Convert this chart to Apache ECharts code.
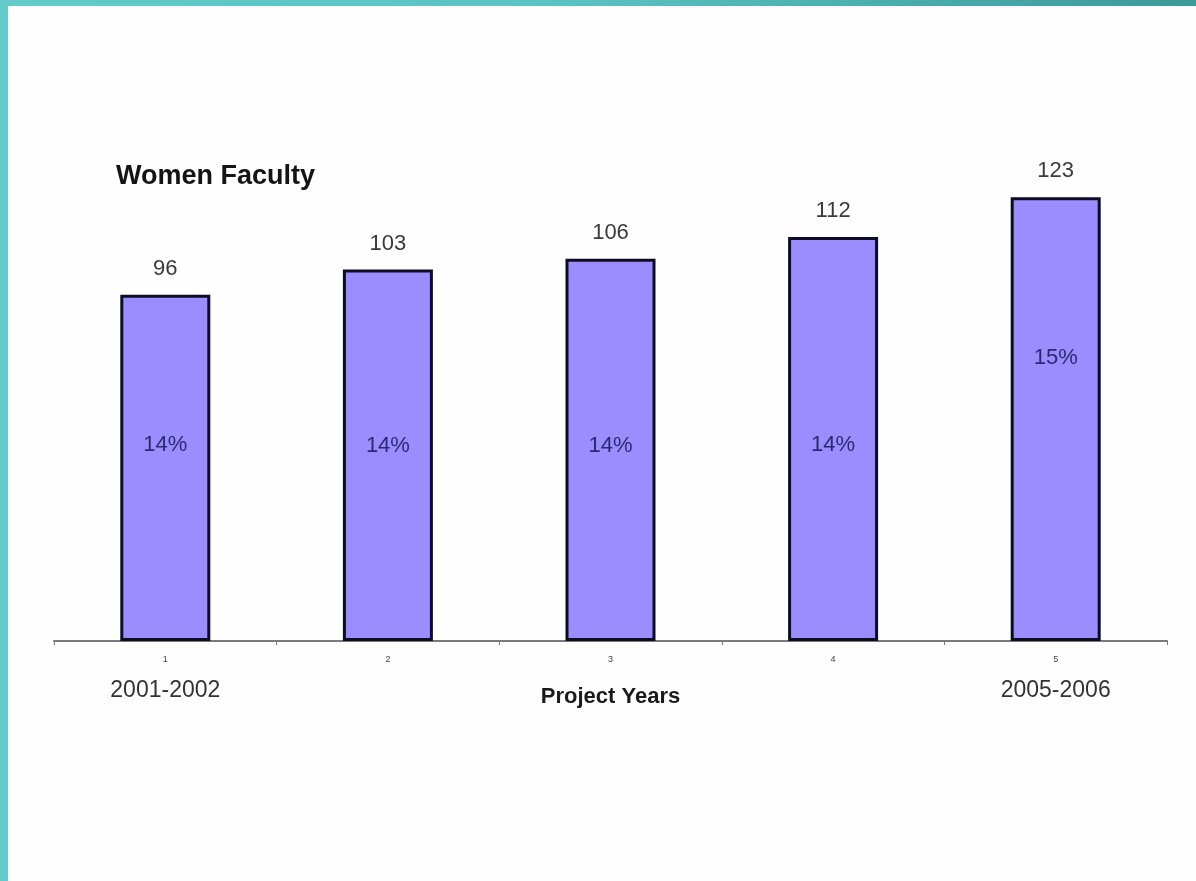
<!DOCTYPE html>
<html>
<head>
<meta charset="utf-8">
<title>Women Faculty</title>
<script src="https://cdn.jsdelivr.net/npm/echarts@6/dist/echarts.min.js"></script>
<style>
  html, body { margin: 0; padding: 0; background: #fefefe; }
  #wrap { position: relative; width: 1196px; height: 881px; overflow: hidden; background: #fefefe; }
  #chart { position: absolute; left: 0; top: 0; width: 1196px; height: 881px; }
  #edgeTop { position: absolute; left: 0; top: 0; width: 1196px; height: 6px;
             background: linear-gradient(to right, #63caca, #5cc3c4 45%, #3a9b99); }
  #edgeLeft { position: absolute; left: 0; top: 0; width: 8px; height: 881px; background: #64caca; }
</style>
</head>
<body>
<div id="wrap">
  <div id="chart"></div>
  <div id="edgeTop"></div>
  <div id="edgeLeft"></div>
</div>
<script>
// Women faculty headcount per project year, with share of all faculty
const yearIndex = ['1', '2', '3', '4', '5'];
const yearSpan = ['2001-2002', '', '', '', '2005-2006'];
const womenFaculty = [96, 103, 106, 112, 123];
const womenShare = ['14%', '14%', '14%', '14%', '15%'];

// vertical placement of the share text inside each bar (px below the bar top)
const shareOffset = [150, 176, 187, 208, 161];

const font = '"Liberation Sans", Arial, sans-serif';

const chart = echarts.init(document.getElementById('chart'), null, { renderer: 'canvas' });

chart.setOption({
  backgroundColor: 'transparent',
  animation: false,
  textStyle: { fontFamily: font },
  title: {
    text: 'Women Faculty',
    left: 111,
    top: 158,
    textStyle: { fontFamily: font, fontSize: 27, fontWeight: 'bold', color: '#141414' }
  },
  grid: { left: 54, right: 29, top: 136, bottom: 240, containLabel: false },
  xAxis: {
    type: 'category',
    data: yearIndex,
    axisLine: { lineStyle: { color: '#7a7a7a', width: 2 } },
    axisTick: { show: true, length: 4, lineStyle: { color: '#7a7a7a', width: 1 } },
    axisLabel: {
      margin: 8,
      interval: 0,
      formatter: (v, i) => yearSpan[i] ? '{n|' + v + '}\n{y|' + yearSpan[i] + '}' : '{n|' + v + '}',
      rich: {
        n: { fontFamily: font, fontSize: 9, lineHeight: 22, color: '#444' },
        y: { fontFamily: font, fontSize: 23, lineHeight: 40, color: '#333' }
      }
    },
    name: 'Project Years',
    nameLocation: 'middle',
    nameGap: 45,
    nameMoveOverlap: false,
    nameTextStyle: { fontFamily: font, fontSize: 22, fontWeight: 'bold', color: '#1a1a1a' }
  },
  yAxis: {
    type: 'value',
    min: 0,
    max: 140,
    show: false,
    splitLine: { show: false }
  },
  series: [{
    type: 'bar',
    barWidth: 90,
    itemStyle: { color: '#9b8dff', borderColor: '#0c0c24', borderWidth: 3 },
    label: {
      show: true,
      position: 'top',
      distance: 15,
      fontFamily: font,
      fontSize: 22,
      color: '#3a3a3a'
    },
    data: womenFaculty
  }, {
    // share labels drawn over the same bars
    type: 'bar',
    barWidth: 90,
    barGap: '-100%',
    silent: true,
    itemStyle: { color: 'transparent', borderWidth: 0 },
    label: {
      show: true,
      fontFamily: font,
      fontSize: 22,
      color: '#2c2a6e',
      align: 'center',
      verticalAlign: 'middle'
    },
    data: womenFaculty.map((v, i) => ({
      value: v,
      label: {
        position: ['50%', shareOffset[i]],
        formatter: womenShare[i]
      }
    }))
  }]
});
</script>
</body>
</html>
